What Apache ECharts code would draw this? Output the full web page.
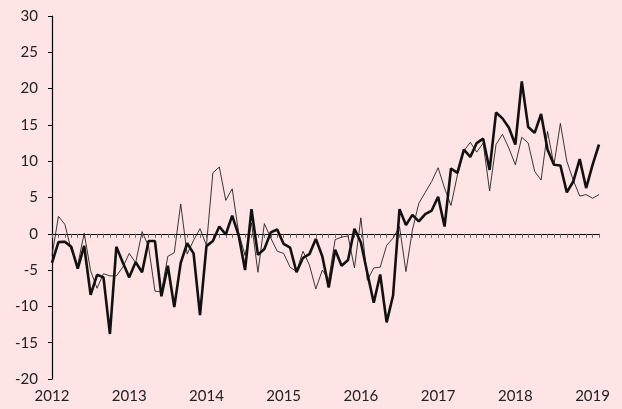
<!DOCTYPE html>
<html>
<head>
<meta charset="utf-8">
<script src="https://cdn.jsdelivr.net/npm/echarts@6/dist/echarts.min.js"></script>
<style>
  html, body {margin:0; padding:0; background:#fee4e4;}
  #chart {width:622px; height:409px;}
</style>
</head>
<body>
<div id="chart"></div>
<script>
// monthly, Jan 2012 .. Feb 2019
let startYear = 2012
let yearLabels = ['2012','2013','2014','2015','2016','2017','2018','2019']
let yTicks = [-20, 30, 5]

let thickLine = [
  -4.0, -1.15, -1.1, -1.8, -4.8, -1.65, -8.4, -5.65, -6.0, -13.8, -1.8, -3.95,
  -6.0, -3.9, -5.3, -1.0, -1.0, -8.6, -4.4, -10.1, -4.0, -1.3, -2.7, -11.2,
  -1.7, -1.0, 1.0, -0.1, 2.5, -0.2, -5.0, 3.4, -2.9, -2.1, 0.2, 0.6,
  -1.4, -1.9, -5.3, -3.3, -2.8, -0.7, -3.1, -7.4, -2.2, -4.4, -3.6, 0.7,
  -1.2, -5.4, -9.5, -5.6, -12.2, -8.5, 3.4, 1.2, 2.6, 1.7, 2.7, 3.2,
  5.1, 1.0, 9.0, 8.4, 11.6, 10.6, 12.5, 13.1, 8.8, 16.7, 15.9, 14.6,
  12.3, 21.0, 14.7, 13.9, 16.5, 11.6, 9.5, 9.4, 5.7, 7.2, 10.3, 6.3,
  9.5, 12.3
]
let thinLine = [
  -3.0, 2.4, 1.3, -2.3, -4.3, 0.1, -5.1, -7.5, -5.5, -5.8, -5.8, -4.6,
  -2.7, -4.0, 0.3, -1.7, -7.9, -8.0, -3.1, -2.6, 4.1, -2.8, -0.9, 0.7,
  -1.6, 8.4, 9.2, 4.6, 6.2, 0.2, -3.0, 1.5, -5.3, 1.4, -0.6, -2.4,
  -2.7, -4.6, -5.2, -2.4, -4.3, -7.6, -5.0, -6.3, -0.8, -0.45, -0.3, -4.7,
  2.2, -6.4, -4.7, -4.6, -1.6, -0.6, 1.0, -5.2, 0.5, 4.2, 5.7, 7.2,
  9.1, 6.3, 3.9, 8.1, 11.4, 12.6, 11.25, 12.5, 5.9, 12.3, 13.7, 11.8,
  9.5, 13.3, 12.5, 8.6, 7.4, 14.1, 9.5, 15.2, 10.0, 7.4, 5.2, 5.4,
  4.9, 5.4
]

let font = 'Lato, "DejaVu Sans", sans-serif'
let textStyle = {color:'#222', fontSize:15, fontFamily:font}

function toPairs(arr){
  return arr.map((v, i) => [i, v])
}

let lastIdx = thickLine.length - 1

let option = {
  backgroundColor:'#fee4e4',
  animation:false,
  grid:{left:52, right:23, top:16, bottom:30},
  xAxis:[
    {
      // zero line with monthly ticks
      type:'value', min:0, max:lastIdx, interval:1,
      axisLine:{onZero:true, lineStyle:{color:'#000', width:1.2}},
      axisTick:{show:true, length:4, lineStyle:{color:'#666', width:1}},
      axisLabel:{show:false},
      splitLine:{show:false}
    },
    {
      // year labels at the bottom
      type:'value', min:0, max:lastIdx, interval:12, position:'bottom',
      axisLine:{show:false},
      axisTick:{show:false},
      splitLine:{show:false},
      axisLabel:Object.assign({
        margin:10,
        showMaxLabel:false,
        formatter:(v)=>{
          if (v % 12 !== 0) return ''
          return yearLabels[v / 12] || ''
        }
      }, textStyle)
    }
  ],
  yAxis:{
    type:'value', min:yTicks[0], max:yTicks[1], interval:yTicks[2],
    axisLine:{show:true, lineStyle:{color:'#000', width:1.2}},
    axisTick:{show:true, length:4, lineStyle:{color:'#000'}},
    splitLine:{show:false},
    axisLabel:Object.assign({margin:14}, textStyle)
  },
  series:[
    {
      type:'line', xAxisIndex:0, data:toPairs(thinLine),
      showSymbol:false, symbol:'none',
      lineStyle:{color:'#222', width:0.9},
      z:2
    },
    {
      type:'line', xAxisIndex:0, data:toPairs(thickLine),
      showSymbol:false, symbol:'none',
      lineStyle:{color:'#111', width:2.6},
      z:3
    }
  ]
}

let myChart = echarts.init(document.getElementById('chart'))
myChart.setOption(option)
window.onresize = myChart.resize
</script>
</body>
</html>
